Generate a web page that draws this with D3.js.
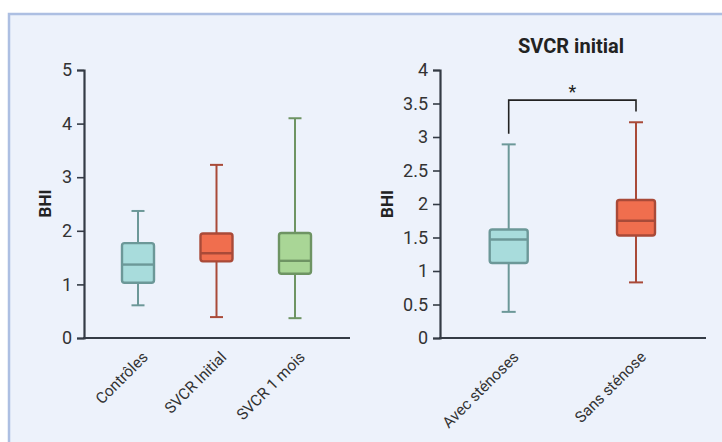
<!DOCTYPE html>
<html><head><meta charset="utf-8">
<script src="https://cdn.jsdelivr.net/npm/d3@7"></script>
<style>body{margin:0;background:#fff;}svg{display:block;font-family:Roboto,"Open Sans",sans-serif;}</style>
</head><body>
<svg id="c" width="722" height="442"></svg>
<script>
// Left panel data
const leftCategories = ["Contrôles", "SVCR Initial", "SVCR 1 mois"];
const leftMin    = [0.61, 0.39, 0.37];
const leftQ1     = [1.03, 1.43, 1.20];
const leftMedian = [1.37, 1.58, 1.44];
const leftQ3     = [1.77, 1.95, 1.96];
const leftMax    = [2.37, 3.23, 4.10];
const leftTicks  = [0, 1, 2, 3, 4, 5];

// Right panel data
const rightTitle = "SVCR initial";
const rightCategories = ["Avec sténoses", "Sans sténose"];
const rightMin    = [0.39, 0.83];
const rightQ1     = [1.12, 1.53];
const rightMedian = [1.47, 1.75];
const rightQ3     = [1.62, 2.06];
const rightMax    = [2.89, 3.22];
const rightTicks  = [0, 0.5, 1, 1.5, 2, 2.5, 3, 3.5, 4];
const sigBracket = {y: 3.55, leftEnd: 3.05, rightEnd: 3.38, label: "*"};

const palettes = {
  teal: {fill: "#A8DCDC", stroke: "#6C9898"},
  red: {fill: "#F06E4E", stroke: "#A94A38"},
  green: {fill: "#A9D696", stroke: "#6E9463"}
};
const leftColors = ["teal", "red", "green"];
const rightColors = ["teal", "red"];

const svg = d3.select("#c");
svg.append("rect").attr("x", 9).attr("y", 14).attr("width", 730).attr("height", 450)
  .attr("fill", "#EDF2FB").attr("stroke", "#ADBFE2").attr("stroke-width", 2.5);

function panel(opts) {
  const g = svg.append("g");
  const y = d3.scaleLinear().domain(opts.domain).range([338, 70]);
  const x = d3.scalePoint().domain(opts.cats).range(opts.xr);
  const axisColor = "#343B45";
  // y axis
  const ya = g.append("g").attr("transform", `translate(${opts.x0},0)`)
    .call(d3.axisLeft(y).tickValues(opts.ticks).tickSize(7).tickPadding(5).tickFormat(d => String(d)));
  ya.select(".domain").attr("stroke", axisColor).attr("stroke-width", 2.2);
  ya.selectAll(".tick line").attr("stroke", axisColor).attr("stroke-width", 1.6);
  ya.selectAll(".tick text").attr("fill", "#333").style("font-size", "18px").style("font-family", "Roboto, sans-serif");
  // x axis line
  g.append("line").attr("x1", opts.x0 - 1).attr("x2", opts.x1).attr("y1", y(0)).attr("y2", y(0))
    .attr("stroke", axisColor).attr("stroke-width", 2.2);
  // x labels
  opts.cats.forEach(c => {
    g.append("text").attr("transform", `translate(${x(c) + 11},${y(0) + 20}) rotate(-45)`)
      .attr("text-anchor", "end").attr("fill", "#333").style("font-size", "15.5px").text(c);
  });
  // y label
  g.append("text").attr("transform", `translate(${opts.ylabX},${opts.ylabY}) rotate(-90)`)
    .attr("text-anchor", "middle").attr("font-weight", "bold").attr("fill", "#222")
    .style("font-size", "17px").text("BHI");
  // boxes
  opts.cats.forEach((c, i) => {
    const p = palettes[opts.colors[i]];
    const cx = x(c), bw = opts.bw, cw = opts.cw;
    g.append("line").attr("x1", cx).attr("x2", cx).attr("y1", y(opts.max[i])).attr("y2", y(opts.min[i]))
      .attr("stroke", p.stroke).attr("stroke-width", 2);
    [opts.max[i], opts.min[i]].forEach(v => {
      g.append("line").attr("x1", cx - cw / 2).attr("x2", cx + cw / 2).attr("y1", y(v)).attr("y2", y(v))
        .attr("stroke", p.stroke).attr("stroke-width", 2);
    });
    g.append("rect").attr("x", cx - bw / 2).attr("y", y(opts.q3[i])).attr("width", bw)
      .attr("height", y(opts.q1[i]) - y(opts.q3[i])).attr("rx", 2.5)
      .attr("fill", p.fill).attr("stroke", p.stroke).attr("stroke-width", 2.4);
    g.append("line").attr("x1", cx - bw / 2).attr("x2", cx + bw / 2).attr("y1", y(opts.med[i])).attr("y2", y(opts.med[i]))
      .attr("stroke", p.stroke).attr("stroke-width", 2.4);
  });
  return {g, x, y};
}

panel({domain: [0, 5], cats: leftCategories, xr: [138, 295], x0: 84, x1: 350, ticks: leftTicks,
  min: leftMin, q1: leftQ1, med: leftMedian, q3: leftQ3, max: leftMax, colors: leftColors,
  bw: 32, cw: 13, ylabX: 51, ylabY: 203.5});

const r = panel({domain: [0, 4], cats: rightCategories, xr: [508.7, 636], x0: 440, x1: 706, ticks: rightTicks,
  min: rightMin, q1: rightQ1, med: rightMedian, q3: rightQ3, max: rightMax, colors: rightColors,
  bw: 38, cw: 14, ylabX: 393, ylabY: 204});

// title
svg.append("text").attr("x", 571).attr("y", 53).attr("text-anchor", "middle")
  .attr("font-weight", "bold").attr("fill", "#222").style("font-size", "20px").text(rightTitle);

// significance bracket
const xa = r.x(rightCategories[0]), xb = r.x(rightCategories[1]);
r.g.append("path")
  .attr("d", `M${xa},${r.y(sigBracket.leftEnd)}V${r.y(sigBracket.y)}H${xb}V${r.y(sigBracket.rightEnd)}`)
  .attr("fill", "none").attr("stroke", "#222").attr("stroke-width", 1.6);
r.g.append("text").attr("x", (xa + xb) / 2).attr("y", r.y(sigBracket.y) - 2).attr("text-anchor", "middle")
  .attr("fill", "#222").style("font-size", "18px").text(sigBracket.label);
</script>
</body></html>
